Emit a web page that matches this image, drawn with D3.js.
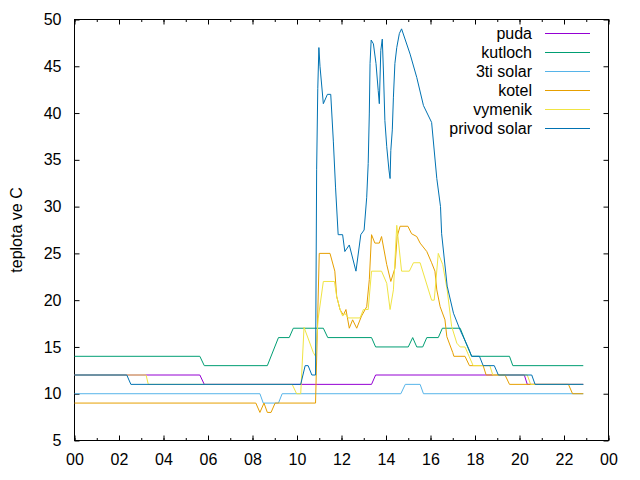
<!DOCTYPE html>
<html lang="cs">
<head>
    <meta charset="UTF-8">
    <title>teploty</title>
    <script src="https://d3js.org/d3.v7.min.js"></script>
    <style>
        body {
            margin: 0;
            background: #fff;
        }
        svg text {
            font-family: "Liberation Sans", Arial, sans-serif;
            font-size: 16px;
            fill: #000;
        }
        .serie {
            fill: none;
            stroke-width: 1;
        }
    </style>
</head>
<body>
    <div id="chart"></div>

    <script>
        // Data - each series as time points (HH:MM) and temperatures
        const seriesNames = ["puda", "kutloch", "3ti solar", "kotel", "vymenik", "privod solar"];
        const seriesColors = ["#9400d3", "#009e73", "#56b4e9", "#e69f00", "#f0e442", "#0072b2"];

        const pudaTimes = ["00:00", "05:38", "05:50", "13:21", "13:32", "20:13", "20:21", "22:52"];
        const pudaValues = [12, 12, 11, 11, 12, 12, 11, 11];

        const kutlochTimes = ["00:00", "05:38", "05:50", "08:40", "09:10", "09:39", "09:50", "11:11", "11:23",
            "13:21", "13:32", "15:00", "15:12", "15:23", "15:39", "15:50", "16:21", "16:32", "17:20", "17:30",
            "17:40", "17:51", "19:33", "19:42", "22:52"];
        const kutlochValues = [14, 14, 13, 13, 16, 16, 17, 17, 16,
            16, 15, 15, 16, 15, 15, 16, 16, 17, 17, 16,
            15, 14, 14, 13, 13];

        const solar3Times = ["00:00", "08:20", "08:29", "09:10", "09:20", "14:40", "14:52", "15:32", "15:41", "22:52"];
        const solar3Values = [10, 10, 9, 9, 10, 10, 11, 11, 10, 10];

        const kotelTimes = ["00:00", "08:09", "08:20", "08:31", "08:40", "08:50", "09:01", "10:50", "11:00", "11:29",
            "11:42", "11:47", "11:56", "12:05", "12:12", "12:21", "12:30", "12:41", "12:54", "13:08",
            "13:15", "13:21", "13:30", "13:42", "13:48", "14:02", "14:13", "14:24", "14:30", "14:38",
            "14:59", "15:09", "15:23", "15:32", "15:50", "16:03", "16:12", "16:17", "16:26", "16:39",
            "16:44", "17:00", "17:03", "17:33", "17:45", "18:22", "18:30", "19:21", "19:33", "22:12",
            "22:23", "22:52"];
        const kotelValues = [9, 9, 8, 9, 8, 8, 9, 9, 25, 25,
            23.1, 20.4, 19, 18.4, 19, 17, 17.9, 17, 18.3, 19.3,
            22.2, 27, 26.1, 26.1, 26.8, 23.8, 22, 23.4, 26.8, 27.9,
            27.9, 27.1, 26.8, 26.1, 25.2, 24, 23.1, 21.1, 19.3, 17.9,
            16.1, 14.4, 14, 14, 13, 13, 12, 12, 11, 11,
            10, 10];

        const vymenikTimes = ["00:00", "03:13", "03:19", "09:47", "09:59", "10:10", "10:19", "10:44", "10:50", "10:57",
            "11:11", "11:41", "11:47", "11:56", "12:03", "12:09", "12:18", "12:50", "12:59", "13:12",
            "13:21", "13:48", "14:02", "14:11", "14:20", "14:29", "14:42", "15:03", "15:14", "15:32",
            "16:03", "16:10", "16:21", "16:33", "16:45", "16:57", "17:11", "17:20", "17:33", "17:44",
            "17:55", "18:40", "18:48", "20:21", "20:30", "22:52"];
        const vymenikValues = [12, 12, 11, 11, 10, 10, 17.1, 14.4, 14, 18,
            22, 22, 20.4, 19, 18.3, 18.6, 18.1, 18.1, 19, 19,
            23.1, 23.1, 21.8, 19, 21.1, 28, 23.1, 23.1, 24, 24,
            20, 20, 25, 23.8, 21.1, 17.2, 15.4, 15, 15, 14,
            13, 13, 12, 12, 11, 11];

        const privodTimes = ["00:00", "02:21", "02:32", "10:10", "10:22", "10:30", "10:40", "10:50", "10:53", "10:56",
            "10:59", "11:02", "11:11", "11:22", "11:31", "11:38", "11:44", "11:51", "12:03", "12:09",
            "12:21", "12:39", "12:52", "13:01", "13:08", "13:12", "13:15", "13:17", "13:20", "13:26",
            "13:33", "13:39", "13:42", "13:46", "13:50", "13:53", "13:57", "14:02", "14:08", "14:11",
            "14:13", "14:17", "14:20", "14:24", "14:29", "14:36", "14:42", "15:05", "15:23", "15:41",
            "16:03", "16:17", "16:27", "16:30", "16:45", "17:02", "17:20", "17:42", "17:51", "18:12",
            "18:22", "18:52", "19:03", "20:33", "20:42", "22:52"];
        const privodValues = [12, 12, 11, 11, 13, 13, 12, 12, 34, 42.6,
            47, 45, 41, 42, 42, 37, 32, 27, 27, 25.2,
            25.9, 23.1, 27, 27.5, 31, 34.6, 40, 45.3, 47.8, 47.4,
            45.3, 42.4, 41, 46.7, 47.9, 44.6, 39.2, 36.4, 33.9, 33,
            36, 38.2, 41.7, 45.3, 47, 48.5, 49, 46.3, 43.8, 40.8,
            39, 33, 30, 27.1, 21.5, 18.6, 16.8, 14.9, 14, 14,
            13, 13, 12, 12, 11, 11];

        const yTicks = [5, 10, 15, 20, 25, 30, 35, 40, 45, 50];

        // Dimensions
        const width = 640, height = 480;
        const plot = {left: 74.5, right: 608.5, top: 19.5, bottom: 440.5};

        const svg = d3.select("#chart")
            .append("svg")
                .attr("width", width)
                .attr("height", height);

        const parseTime = d3.timeParse("%H:%M");
        const dayStart = parseTime("00:00");
        const dayEnd = d3.timeDay.offset(dayStart, 1);

        // Scales
        const xScale = d3.scaleTime().domain([dayStart, dayEnd]).range([plot.left, plot.right]);
        const yScale = d3.scaleLinear().domain([5, 50]).range([plot.bottom, plot.top]);

        const series = [
            {times: pudaTimes, values: pudaValues},
            {times: kutlochTimes, values: kutlochValues},
            {times: solar3Times, values: solar3Values},
            {times: kotelTimes, values: kotelValues},
            {times: vymenikTimes, values: vymenikValues},
            {times: privodTimes, values: privodValues}
        ].map((s, i) => ({
            name: seriesNames[i],
            color: seriesColors[i],
            points: s.times.map((t, j) => ({t: parseTime(t), v: s.values[j]}))
        }));

        // Axes - ticks inward, mirrored on top and right like gnuplot
        const hourFormat = d3.timeFormat("%H");
        const majorLen = 5, minorLen = 2.5;

        svg.append("g")
            .attr("transform", `translate(0,${plot.bottom})`)
            .call(d3.axisBottom(xScale).ticks(d3.timeHour.every(1)).tickSize(-minorLen).tickFormat(""))
            .call(g => g.select(".domain").remove());
        svg.append("g")
            .attr("transform", `translate(0,${plot.top})`)
            .call(d3.axisTop(xScale).ticks(d3.timeHour.every(1)).tickSize(-minorLen).tickFormat(""))
            .call(g => g.select(".domain").remove());

        const xAxis = svg.append("g")
            .attr("transform", `translate(0,${plot.bottom})`)
            .call(d3.axisBottom(xScale).ticks(d3.timeHour.every(2)).tickSize(-majorLen).tickPadding(15).tickFormat(hourFormat));
        xAxis.select(".domain").remove();
        xAxis.selectAll("text").attr("dy", "0.6em");

        svg.append("g")
            .attr("transform", `translate(0,${plot.top})`)
            .call(d3.axisTop(xScale).ticks(d3.timeHour.every(2)).tickSize(-majorLen).tickFormat(""))
            .call(g => g.select(".domain").remove());

        const yAxis = svg.append("g")
            .attr("transform", `translate(${plot.left},0)`)
            .call(d3.axisLeft(yScale).tickValues(yTicks).tickSize(-majorLen).tickPadding(13));
        yAxis.select(".domain").remove();

        svg.append("g")
            .attr("transform", `translate(${plot.right},0)`)
            .call(d3.axisRight(yScale).tickValues(yTicks).tickSize(-majorLen).tickFormat(""))
            .call(g => g.select(".domain").remove());

        svg.selectAll(".tick line").attr("stroke", "#000");
        svg.selectAll(".tick text").style("font-size", "16px").style("font-family", "'Liberation Sans', Arial, sans-serif");

        // Border
        svg.append("rect")
            .attr("x", plot.left)
            .attr("y", plot.top)
            .attr("width", plot.right - plot.left)
            .attr("height", plot.bottom - plot.top)
            .attr("fill", "none")
            .attr("stroke", "#000");

        // Y label
        svg.append("text")
            .attr("transform", `translate(22,${(plot.top + plot.bottom) / 2}) rotate(-90)`)
            .attr("text-anchor", "middle")
            .text("teplota ve C");

        // Lines
        const line = d3.line()
            .x(d => xScale(d.t))
            .y(d => yScale(d.v));

        svg.selectAll(".serie")
            .data(series)
            .enter()
            .append("path")
                .attr("class", "serie")
                .attr("stroke", d => d.color)
                .attr("d", d => line(d.points));

        // Legend
        const legend = svg.append("g").attr("class", "legend");
        series.forEach((s, i) => {
            const y = 33.5 + i * 19;
            legend.append("text")
                .attr("x", 532)
                .attr("y", y)
                .attr("dy", "0.35em")
                .attr("text-anchor", "end")
                .text(s.name);
            legend.append("line")
                .attr("x1", 545)
                .attr("x2", 590)
                .attr("y1", y)
                .attr("y2", y)
                .attr("stroke", s.color);
        });
    </script>
</body>
</html>
